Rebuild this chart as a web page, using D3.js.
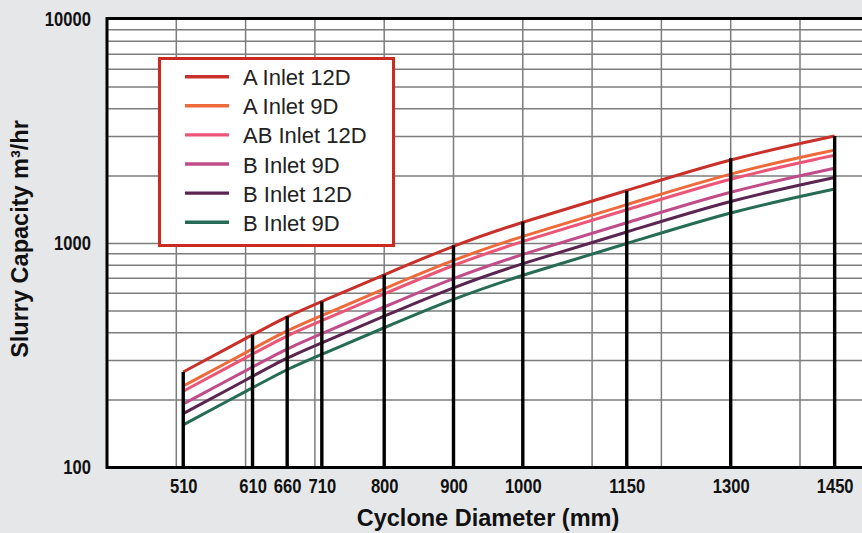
<!DOCTYPE html>
<html>
<head>
<meta charset="utf-8">
<script src="https://cdn.jsdelivr.net/npm/d3@7"></script>
<style>
    body { margin: 0; background: #e6e7e9; }
    svg { display: block; }
    .axis text {
        font-family: 'Liberation Sans', Arial, sans-serif;
        font-weight: bold;
        font-size: 19.5px;
        fill: #111;
    }
    .title {
        font-family: 'Liberation Sans', Arial, sans-serif;
        font-weight: bold;
        font-size: 23.5px;
        fill: #111;
    }
    .legend text {
        font-family: 'Liberation Sans', Arial, sans-serif;
        font-size: 22px;
        fill: #222;
    }
</style>
</head>
<body>
<svg id="Chart" width="862" height="533"></svg>
<script>
var diameters = [510, 610, 660, 710, 800, 900, 1000, 1150, 1300, 1450];
var yTickValues = [100, 1000, 10000];
var seriesNames = ['A Inlet 12D', 'A Inlet 9D', 'AB Inlet 12D', 'B Inlet 9D', 'B Inlet 12D', 'B Inlet 9D'];
var seriesColors = ['#c9302a', '#ef6a3a', '#ec5577', '#c14c8a', '#5b2552', '#256b55'];
var aInlet12D = [267, 391, 474, 551, 726, 980, 1252, 1719, 2400, 3020];
var aInlet9D = [231, 338, 410, 477, 628, 848, 1083, 1487, 2076, 2612];
var abInlet12D = [219, 321, 389, 452, 596, 805, 1028, 1411, 1970, 2479];
var bInlet9D = [192, 281, 340, 396, 521, 704, 899, 1234, 1723, 2168];
var bInlet12D = [174, 255, 310, 360, 474, 640, 818, 1123, 1567, 1972];
var bInlet9DLow = [155, 227, 275, 320, 421, 568, 726, 997, 1392, 1752];
var seriesValues = [aInlet12D, aInlet9D, abInlet12D, bInlet9D, bInlet12D, bInlet9DLow];

var svg = d3.select('#Chart');
var plotLeft = 107;
var plotTop = 19.5;
var plotBottom = 467.5;
var plotRight = 880;

var xScale = d3.scaleLinear().domain([400, 1500]).range([plotLeft, plotLeft + 1100 * 0.693]);
var yScale = d3.scaleLog().domain([100, 10000]).range([plotBottom, plotTop]);

// plot area
svg.append('rect')
    .attr('x', plotLeft)
    .attr('y', plotTop)
    .attr('width', plotRight - plotLeft)
    .attr('height', plotBottom - plotTop)
    .attr('fill', '#fff');

// grid
var grid = svg.append('g').attr('stroke', '#7d7d7d').attr('stroke-width', 1.5);
grid.selectAll('line.h')
    .data(yScale.ticks().filter(function (d) { return d > 100 && d < 10000; }))
    .enter()
    .append('line')
    .attr('class', 'h')
    .attr('x1', plotLeft)
    .attr('x2', plotRight)
    .attr('y1', function (d) { return yScale(d); })
    .attr('y2', function (d) { return yScale(d); });
grid.selectAll('line.v')
    .data(xScale.ticks(10).filter(function (d) { return d > 400 && d < 1500; }))
    .enter()
    .append('line')
    .attr('class', 'v')
    .attr('x1', function (d) { return xScale(d); })
    .attr('x2', function (d) { return xScale(d); })
    .attr('y1', plotTop)
    .attr('y2', plotBottom);

// curves
var line = d3.line()
    .x(function (d, i) { return xScale(diameters[i]); })
    .y(function (d) { return yScale(d); })
    .curve(d3.curveBasis);
seriesValues.forEach(function (values, i) {
    svg.append('path')
        .attr('d', line(values))
        .attr('fill', 'none')
        .attr('stroke', seriesColors[i])
        .attr('stroke-width', 3);
});

// bars up to the top curve
svg.append('g')
    .selectAll('line')
    .data(diameters)
    .enter()
    .append('line')
    .attr('x1', function (d) { return xScale(d); })
    .attr('x2', function (d) { return xScale(d); })
    .attr('y1', plotBottom)
    .attr('y2', function (d, i) { return yScale(aInlet12D[i]); })
    .attr('stroke', '#000')
    .attr('stroke-width', 3.4);

// frame
svg.append('path')
    .attr('d', 'M' + plotRight + ',' + (plotTop - 1) + 'H' + plotLeft + 'V' + plotBottom + 'H' + plotRight)
    .attr('fill', 'none')
    .attr('stroke', '#000')
    .attr('stroke-width', 3);

// axes (condensed look via horizontal squeeze)
var xAxis = d3.axisBottom(xScale).tickValues(diameters).tickSize(0).tickPadding(12).tickFormat(d3.format('d'));
var yAxis = d3.axisLeft(yScale).tickValues(yTickValues).tickSize(0).tickPadding(16).tickFormat(d3.format('d'));
svg.append('g')
    .attr('class', 'axis')
    .attr('transform', 'translate(0, ' + plotBottom + ')')
    .call(xAxis)
    .call(function (g) {
        g.select('.domain').remove();
        g.selectAll('text').attr('transform', 'scale(0.85, 1)');
    });
svg.append('g')
    .attr('class', 'axis')
    .attr('transform', 'translate(' + plotLeft + ', 0)')
    .call(yAxis)
    .call(function (g) {
        g.select('.domain').remove();
        g.selectAll('text').attr('x', -19).attr('transform', 'scale(0.85, 1)');
    });

svg.append('text')
    .attr('class', 'title')
    .attr('x', 488)
    .attr('y', 525.5)
    .attr('text-anchor', 'middle')
    .text('Cyclone Diameter (mm)');
svg.append('text')
    .attr('class', 'title')
    .attr('transform', 'translate(28, 239) rotate(-90)')
    .attr('text-anchor', 'middle')
    .text('Slurry Capacity m³/hr');

// legend
var legend = svg.append('g').attr('class', 'legend');
legend.append('rect')
    .attr('x', 159.5)
    .attr('y', 58.5)
    .attr('width', 234)
    .attr('height', 187)
    .attr('fill', '#fff')
    .attr('stroke', '#cc2a20')
    .attr('stroke-width', 3);
seriesNames.forEach(function (name, i) {
    var y = 76.7 + i * 29.1;
    legend.append('line')
        .attr('x1', 185)
        .attr('x2', 229)
        .attr('y1', y)
        .attr('y2', y)
        .attr('stroke', seriesColors[i])
        .attr('stroke-width', 3.4);
    legend.append('text')
        .attr('x', 243)
        .attr('y', y + 8.5)
        .text(name);
});
</script>
</body>
</html>
